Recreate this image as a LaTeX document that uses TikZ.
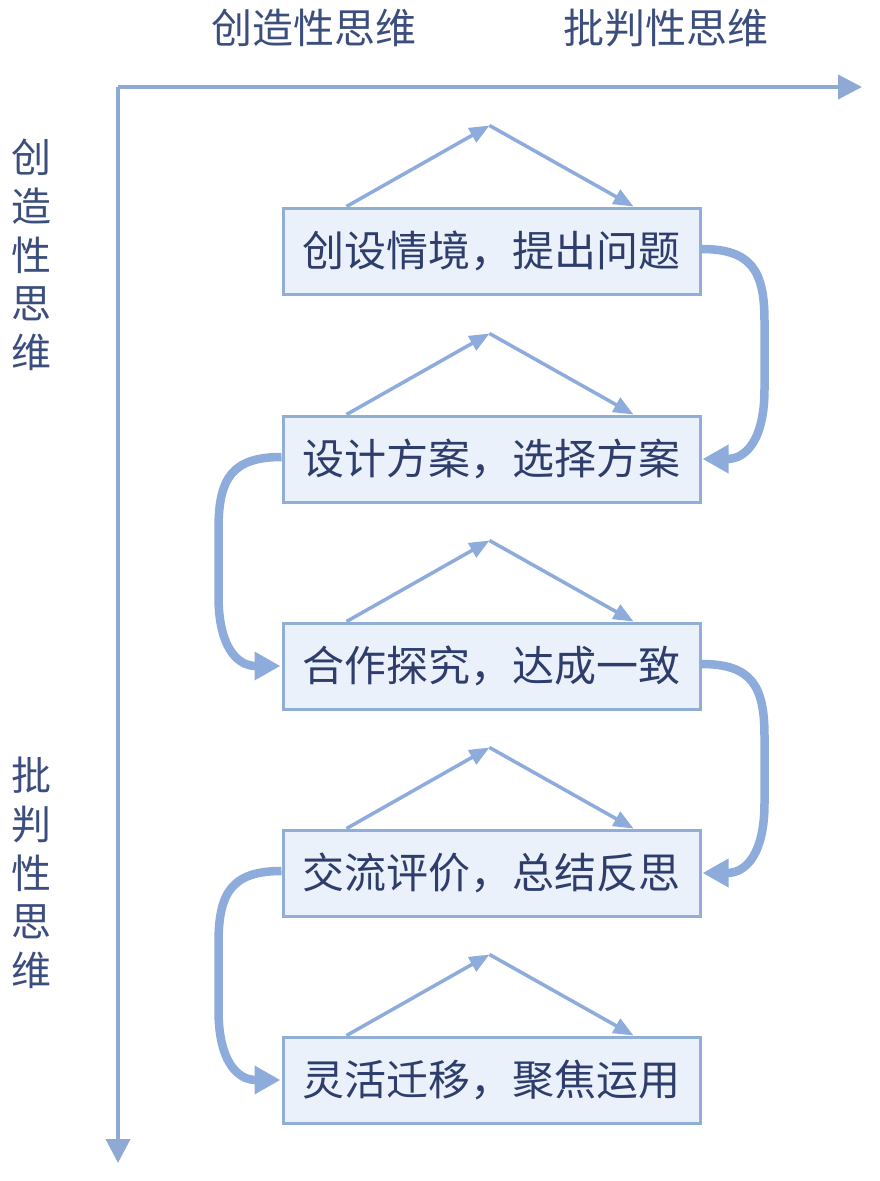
\documentclass[tikz,border=0pt]{standalone}
\usepackage{fontspec}
\setmainfont{Noto Sans CJK SC}
\usetikzlibrary{arrows.meta,calc}
\definecolor{axisblue}{HTML}{8EA9D3}
\definecolor{lineblue}{HTML}{8DACDB}
\definecolor{boxfill}{HTML}{EAF1FA}
\definecolor{boxline}{HTML}{91AED6}
\definecolor{txtblue}{HTML}{2E3D6B}
\definecolor{lbl}{HTML}{3C4E7E}
\begin{document}
\begin{tikzpicture}[x=1pt,y=-1pt,
  stepbox/.style={draw=boxline,line width=3pt,fill=boxfill,minimum width=417pt,minimum height=86pt,inner sep=0pt,text=txtblue,font=\fontsize{42}{46}\selectfont},
  axisline/.style={draw=axisblue,line width=4pt},
  thinarrow/.style={draw=lineblue,line width=3.5pt,-{Triangle[length=20pt,width=16pt]}},
  looparrow/.style={draw=lineblue,line width=8.5pt,-{Triangle[length=26pt,width=27pt]}},
  axlabel/.style={text=lbl,font=\fontsize{41}{44}\selectfont,inner sep=0pt},
  vlabel/.style={text=lbl,font=\fontsize{40}{48.75}\selectfont,inner sep=0pt,align=center}]
\useasboundingbox (0,0) rectangle (880,1181);
\fill[white] (0,0) rectangle (880,1181);
% axes
\coordinate (O) at (118,87);
\coordinate (xend) at (862,87);
\coordinate (yend) at (118,1163);
\draw[axisline,-{Triangle[length=24pt,width=24pt]}] (O) -- (xend);
\draw[axisline,-{Triangle[length=24pt,width=24pt]}] (O) -- (yend);
\node[axlabel] (xl1) at (314,28) {创造性思维};
\node[axlabel] (xl2) at (666,28) {批判性思维};
\node[vlabel] (yl1) at (32,255) {创\\造\\性\\思\\维};
\node[vlabel] (yl2) at (32,873) {批\\判\\性\\思\\维};
% boxes
\node[stepbox] (b1) at (491.5,251) {创设情境，提出问题};
\node[stepbox] (b2) at (491.5,459) {设计方案，选择方案};
\node[stepbox] (b3) at (491.5,666) {合作探究，达成一致};
\node[stepbox] (b4) at (491.5,873) {交流评价，总结反思};
\node[stepbox] (b5) at (491.5,1080) {灵活迁移，聚焦运用};
% triangles above boxes
\foreach \b in {b1,b2,b3,b4,b5}{
  \coordinate (\b L) at ($(\b.north west)+(65,0)$);
  \coordinate (\b R) at ($(\b.north west)+(352,0)$);
  \coordinate (\b A) at ($(\b.north west)+(208,-81)$);
  \draw[thinarrow] (\b L) -- (\b A);
  \draw[thinarrow] (\b A) -- (\b R);
}
% loop arrows
\draw[looparrow] ($(b1.east)+(0,-2)$) .. controls ($(b1.east)+(50,-2)$) and ($(b1.east)+(63,20)$) .. ($(b1.east)+(63,70)$)
  -- ($(b2.east)+(63,-70)$) .. controls ($(b2.east)+(63,-20)$) and ($(b2.east)+(45,0)$) .. ($(b2.east)+(1,0)$);
\draw[looparrow] ($(b2.west)+(0,-2)$) .. controls ($(b2.west)+(-50,-2)$) and ($(b2.west)+(-63,20)$) .. ($(b2.west)+(-63,70)$)
  -- ($(b3.west)+(-63,-70)$) .. controls ($(b3.west)+(-63,-20)$) and ($(b3.west)+(-45,0)$) .. ($(b3.west)+(-1,0)$);
\draw[looparrow] ($(b3.east)+(0,-2)$) .. controls ($(b3.east)+(50,-2)$) and ($(b3.east)+(63,20)$) .. ($(b3.east)+(63,70)$)
  -- ($(b4.east)+(63,-70)$) .. controls ($(b4.east)+(63,-20)$) and ($(b4.east)+(45,0)$) .. ($(b4.east)+(1,0)$);
\draw[looparrow] ($(b4.west)+(0,-2)$) .. controls ($(b4.west)+(-50,-2)$) and ($(b4.west)+(-63,20)$) .. ($(b4.west)+(-63,70)$)
  -- ($(b5.west)+(-63,-70)$) .. controls ($(b5.west)+(-63,-20)$) and ($(b5.west)+(-45,0)$) .. ($(b5.west)+(-1,0)$);
\end{tikzpicture}
\end{document}
